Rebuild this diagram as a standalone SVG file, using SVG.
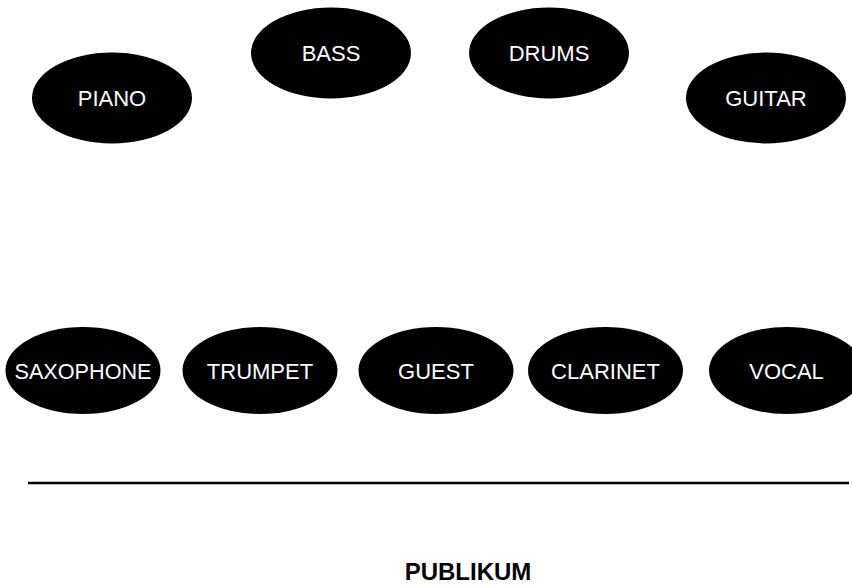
<svg xmlns="http://www.w3.org/2000/svg" width="852" height="585" viewBox="0 0 852 585">
<style>
.n ellipse{fill:#000;}
.n text{fill:#fff;font-family:"Liberation Sans",Arial,sans-serif;font-size:22px;text-anchor:middle;}
.t{fill:#000;font-family:"Liberation Sans",Arial,sans-serif;font-size:24px;font-weight:bold;text-anchor:middle;}
</style>
<rect width="852" height="585" fill="#fff"/>
<g id="piano" class="n"><ellipse cx="112" cy="98" rx="80" ry="45.5"/><text x="112" y="106">PIANO</text></g>
<g id="bass" class="n"><ellipse cx="331" cy="53" rx="80" ry="45.5"/><text x="331" y="61">BASS</text></g>
<g id="drums" class="n"><ellipse cx="549" cy="53" rx="80" ry="45.5"/><text x="549" y="61">DRUMS</text></g>
<g id="guitar" class="n"><ellipse cx="766" cy="98" rx="80" ry="45.5"/><text x="766" y="106">GUITAR</text></g>
<g id="saxophone" class="n"><ellipse cx="83" cy="370.5" rx="77.5" ry="43.5"/><text x="83" y="378.5" textLength="137" lengthAdjust="spacingAndGlyphs">SAXOPHONE</text></g>
<g id="trumpet" class="n"><ellipse cx="260" cy="370.5" rx="77.5" ry="43.5"/><text x="260" y="378.5">TRUMPET</text></g>
<g id="guest" class="n"><ellipse cx="436" cy="370.5" rx="77.5" ry="43.5"/><text x="436" y="378.5">GUEST</text></g>
<g id="clarinet" class="n"><ellipse cx="605.5" cy="370.5" rx="77.5" ry="43.5"/><text x="605.5" y="378.5">CLARINET</text></g>
<g id="vocal" class="n"><ellipse cx="786.5" cy="370.5" rx="77.5" ry="43.5"/><text x="786.5" y="378.5">VOCAL</text></g>
<g id="connectors"></g>
<line x1="28" y1="483" x2="849" y2="483" stroke="#000" stroke-width="2.5"/>
<text class="t" x="468" y="580">PUBLIKUM</text>
</svg>
